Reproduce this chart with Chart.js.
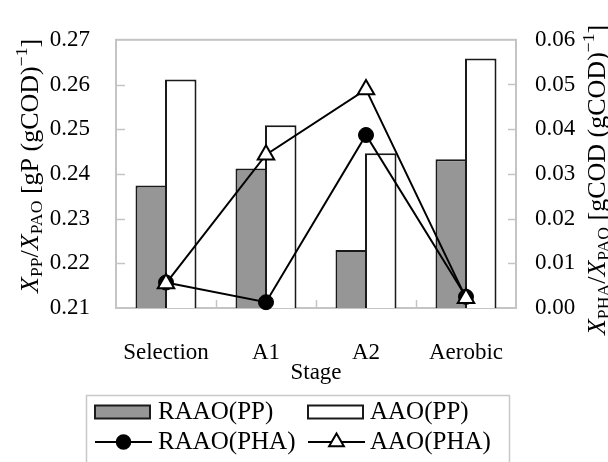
<!DOCTYPE html>
<html>
<head>
<meta charset="utf-8">
<script src="https://cdn.jsdelivr.net/npm/chart.js@4"></script>
<style>
  html, body { margin: 0; padding: 0; background: #ffffff; }
  canvas { display: block; }
</style>
</head>
<body>
<canvas id="c" width="608" height="462"></canvas>
<script>
// Stages of the process cycle
const stages = ['Selection', 'A1', 'A2', 'Aerobic'];

// Polyphosphate fraction, X_PP / X_PAO  [gP (gCOD)^-1]
const raaoPP = [0.2374, 0.2412, 0.2230, 0.2433];
const aaoPP  = [0.2611, 0.2509, 0.2446, 0.2658];

// PHA fraction, X_PHA / X_PAO  [gCOD (gCOD)^-1]
const raaoPHA = [0.0057, 0.0013, 0.0387, 0.0025];
const aaoPHA  = [0.0055, 0.0343, 0.0489, 0.0022];

// Series names
const seriesNames = ['RAAO(PP)', 'AAO(PP)', 'RAAO(PHA)', 'AAO(PHA)'];

const SERIF = "'Liberation Serif', 'Times New Roman', serif";
const FS = 23;        // tick labels
const FS_TITLE = 26;  // axis titles
const FS_LEGEND = 25; // legend entries

// Draws a line of mixed text (italic, subscripts, superscripts) centred on (cx, cy)
function drawRich(ctx, parts, cx, cy, rot, size) {
  const fontOf = p => {
    const s = (p.sub || p.sup) ? size * 0.68 : size;
    return (p.italic ? 'italic ' : '') + s + 'px ' + SERIF;
  };
  let total = 0;
  const widths = parts.map(p => { ctx.font = fontOf(p); const w = ctx.measureText(p.t).width; total += w; return w; });
  ctx.save();
  ctx.translate(cx, cy);
  ctx.rotate(rot);
  ctx.fillStyle = '#000';
  ctx.textBaseline = 'alphabetic';
  ctx.textAlign = 'left';
  let x = -total / 2;
  const base = size * 0.33;
  parts.forEach((p, i) => {
    ctx.font = fontOf(p);
    let dy = base;
    if (p.sub) dy += size * 0.18;
    if (p.sup) dy -= size * 0.42;
    ctx.fillText(p.t, x, dy);
    x += widths[i];
  });
  ctx.restore();
}

const leftTitle = [
  { t: 'X', italic: true }, { t: 'PP', sub: true }, { t: '/' },
  { t: 'X', italic: true }, { t: 'PAO', sub: true },
  { t: ' [gP (gCOD)' }, { t: '\u22121', sup: true }, { t: ']' }
];
const rightTitle = [
  { t: 'X', italic: true }, { t: 'PHA', sub: true }, { t: '/' },
  { t: 'X', italic: true }, { t: 'PAO', sub: true },
  { t: ' [gCOD (gCOD)' }, { t: '\u22121', sup: true }, { t: ']' }
];

// Frame, inward tick marks, axis titles and the boxed legend
const decorations = {
  id: 'decorations',
  beforeDatasetsDraw(chart) {
    const { ctx, chartArea: a, scales } = chart;
    ctx.save();
    ctx.strokeStyle = '#c4c4c4';
    ctx.lineWidth = 1.5;
    // inward ticks on the left axis
    scales.y.ticks.forEach((t, i) => {
      if (i === 0 || i === scales.y.ticks.length - 1) return;
      const y = Math.round(scales.y.getPixelForValue(t.value)) + 0.5;
      ctx.beginPath(); ctx.moveTo(a.left, y); ctx.lineTo(a.left + 9, y); ctx.stroke();
    });
    // inward ticks on the right axis
    scales.y2.ticks.forEach((t, i) => {
      if (i === 0 || i === scales.y2.ticks.length - 1) return;
      const y = Math.round(scales.y2.getPixelForValue(t.value)) + 0.5;
      ctx.beginPath(); ctx.moveTo(a.right - 8, y); ctx.lineTo(a.right, y); ctx.stroke();
    });
    // category separators on the bottom axis
    for (let i = 1; i < stages.length; i++) {
      const x = Math.round((scales.x.getPixelForValue(i - 1) + scales.x.getPixelForValue(i)) / 2) + 0.5;
      ctx.beginPath(); ctx.moveTo(x, a.bottom); ctx.lineTo(x, a.bottom - 8); ctx.stroke();
    }
    // plot frame
    ctx.lineWidth = 2;
    ctx.strokeRect(a.left, a.top, a.right - a.left, a.bottom - a.top);
    ctx.restore();
  },
  afterDraw(chart) {
    const { ctx, chartArea: a } = chart;
    // axis titles
    drawRich(ctx, leftTitle, 29, (a.top + a.bottom) / 2 - 8, -Math.PI / 2, FS_TITLE);
    drawRich(ctx, rightTitle, 596, (a.top + a.bottom) / 2 + 6, -Math.PI / 2, FS_TITLE);
    ctx.save();
    ctx.fillStyle = '#000';
    ctx.font = FS + 'px ' + SERIF;
    ctx.textAlign = 'center';
    ctx.textBaseline = 'middle';
    ctx.fillText('Stage', (a.left + a.right) / 2, 373);
    ctx.restore();

    // legend box
    ctx.save();
    ctx.strokeStyle = '#c8c8c8';
    ctx.lineWidth = 1.5;
    ctx.strokeRect(86.5, 395.5, 423, 90);
    const ds = chart.data.datasets;
    const cols = [{ sx: 95, tx: 158 }, { sx: 308, tx: 370 }];
    const rows = [412, 442];
    ctx.font = FS_LEGEND + 'px ' + SERIF;
    ctx.textBaseline = 'middle';
    ctx.textAlign = 'left';
    ds.forEach((d, i) => {
      const c = cols[i % 2], y = rows[Math.floor(i / 2)];
      if (d.type === 'line') {
        ctx.strokeStyle = d.borderColor; ctx.lineWidth = 2;
        ctx.beginPath(); ctx.moveTo(c.sx, y); ctx.lineTo(c.sx + 57, y); ctx.stroke();
        ctx.fillStyle = d.pointBackgroundColor; ctx.strokeStyle = d.borderColor;
        ctx.beginPath();
        const r = d.pointRadius * 0.9, x0 = c.sx + 28.5;
        if (d.pointStyle === 'circle') {
          ctx.arc(x0, y, r, 0, Math.PI * 2);
        } else {
          ctx.moveTo(x0, y - r);
          ctx.lineTo(x0 + r * Math.sqrt(3) / 2, y + r / 2);
          ctx.lineTo(x0 - r * Math.sqrt(3) / 2, y + r / 2);
          ctx.closePath();
        }
        ctx.fill(); ctx.stroke();
      } else {
        ctx.fillStyle = d.backgroundColor; ctx.strokeStyle = d.borderColor; ctx.lineWidth = 2;
        ctx.fillRect(c.sx, y - 6.5, 55, 13);
        ctx.strokeRect(c.sx, y - 6.5, 55, 13);
      }
      ctx.fillStyle = '#000';
      ctx.fillText(d.label, c.tx, y);
    });
    ctx.restore();
  }
};

const tickFont = { family: SERIF, size: FS };

new Chart(document.getElementById('c'), {
  data: {
    labels: stages,
    datasets: [
      { type: 'bar', label: seriesNames[0], data: raaoPP, yAxisID: 'y', order: 3,
        backgroundColor: '#969696', borderColor: '#1a1a1a', borderWidth: 2, borderSkipped: false },
      { type: 'bar', label: seriesNames[1], data: aaoPP, yAxisID: 'y', order: 3,
        backgroundColor: '#ffffff', borderColor: '#1a1a1a', borderWidth: 2, borderSkipped: false },
      { type: 'line', label: seriesNames[2], data: raaoPHA, yAxisID: 'y2', order: 2,
        borderColor: '#000000', borderWidth: 2, tension: 0, clip: false,
        pointStyle: 'circle', pointRadius: 7.5, pointBackgroundColor: '#000000',
        pointBorderColor: '#000000', pointBorderWidth: 1 },
      { type: 'line', label: seriesNames[3], data: aaoPHA, yAxisID: 'y2', order: 1,
        borderColor: '#000000', borderWidth: 2, tension: 0, clip: false,
        pointStyle: 'triangle', pointRadius: 9.5, pointBackgroundColor: '#ffffff',
        pointBorderColor: '#000000', pointBorderWidth: 2 }
    ]
  },
  options: {
    responsive: false,
    devicePixelRatio: 1,
    animation: false,
    layout: { padding: { top: 24, left: 0, right: 0, bottom: 0 } },
    plugins: { legend: { display: false }, tooltip: { enabled: false } },
    // bars overlap by one border width so neighbouring outlines share a single line
    datasets: { bar: { categoryPercentage: 0.59, barPercentage: 1.068 } },
    scales: {
      x: {
        type: 'category',
        grid: { display: false },
        border: { display: false },
        ticks: { font: tickFont, color: '#000', padding: 23, maxRotation: 0, autoSkip: false },
        afterFit(s) { s.height = 154; }
      },
      y: {
        position: 'left', min: 0.21, max: 0.27,
        grid: { display: false, drawTicks: false },
        border: { display: false },
        ticks: { stepSize: 0.01, font: tickFont, color: '#000', padding: 26,
                 callback: v => Number(v).toFixed(2) },
        afterFit(s) { s.width = 116; }
      },
      y2: {
        position: 'right', min: 0, max: 0.06,
        grid: { display: false, drawTicks: false },
        border: { display: false },
        ticks: { stepSize: 0.01, font: tickFont, color: '#000', padding: 19,
                 callback: v => Number(v).toFixed(2) },
        afterFit(s) { s.width = 92; }
      }
    }
  },
  plugins: [decorations]
});
</script>
</body>
</html>
